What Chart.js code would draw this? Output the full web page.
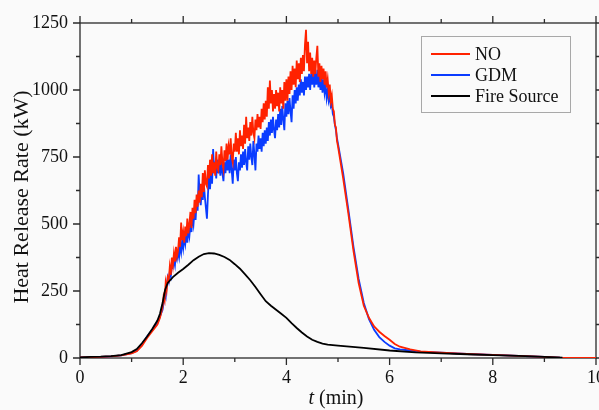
<!DOCTYPE html>
<html><head><meta charset="utf-8">
<script src="https://cdn.jsdelivr.net/npm/chart.js@4/dist/chart.umd.min.js"></script>
<style>html,body{margin:0;padding:0;background:#fafafa;}#wrap{width:599px;height:410px;}</style>
</head><body><div id="wrap"><canvas id="c" width="599" height="410"></canvas></div>
<script>
// time (min) for the measured curves
const timeMin = [0,0.2,0.4,0.6,0.8,1.0,1.1,1.2,1.3,1.4,1.5,1.55,
1.60,1.62,1.64,1.66,1.68,1.70,1.72,1.74,1.76,1.78,1.80,1.82,1.84,1.86,1.88,1.90,1.92,1.94,1.96,1.98,
2.00,2.02,2.04,2.06,2.08,2.10,2.12,2.14,2.16,2.18,2.20,2.22,2.24,2.26,2.28,2.30,2.32,2.34,2.36,2.38,
2.40,2.42,2.44,2.46,2.48,2.50,2.52,2.54,2.56,2.58,2.60,2.62,2.64,2.66,2.68,2.70,2.72,2.74,2.76,2.78,
2.80,2.82,2.84,2.86,2.88,2.90,2.92,2.94,2.96,2.98,3.00,3.02,3.04,3.06,3.08,3.10,3.12,3.14,3.16,3.18,
3.20,3.22,3.24,3.26,3.28,3.30,3.32,3.34,3.36,3.38,3.40,3.42,3.44,3.46,3.48,3.50,3.52,3.54,3.56,3.58,
3.60,3.62,3.64,3.66,3.68,3.70,3.72,3.74,3.76,3.78,3.80,3.82,3.84,3.86,3.88,3.90,3.92,3.94,3.96,3.98,
4.00,4.02,4.04,4.06,4.08,4.10,4.12,4.14,4.16,4.18,4.20,4.22,4.24,4.26,4.28,4.30,4.32,4.34,4.36,4.38,
4.40,4.42,4.44,4.46,4.48,4.50,4.52,4.54,4.56,4.58,4.60,4.62,4.64,4.66,4.68,4.70,4.72,4.74,4.76,4.78,
4.80,4.82,4.84,4.86,4.88,4.90,4.92,4.94,4.96,4.98,5.00,
5.1,5.2,5.3,5.4,5.5,5.6,5.7,5.8,5.9,6.0,6.1,6.2,6.4,6.6,7.0,7.5,8.0,8.5,9.0,9.3,9.5,10];
// NO (kW)
const noHRR = [2,3,4,6,10,17,25,45,75,100,125,150,
190,230,215,280,255,300,290,340,310,375,345,390,360,415,380,400,450,415,505,440,
470,430,490,455,520,465,500,545,485,560,520,590,540,610,565,625,580,650,600,690,
620,700,650,640,720,670,740,680,760,690,730,680,770,710,700,760,720,790,730,705,
775,735,800,740,790,760,820,750,730,800,770,840,770,820,760,850,790,830,780,870,
800,900,820,860,810,880,830,900,840,820,890,850,910,860,900,855,930,880,950,890,
960,900,1010,930,1035,950,1000,920,985,930,1000,940,990,920,1010,950,1000,930,1030,960,
1040,960,1050,985,1070,1000,1090,1020,1080,1010,1110,1040,1100,1030,1120,1060,1130,1070,1170,1225,
1100,1180,1070,1140,1060,1120,1050,1110,1060,1120,1165,1050,1100,1030,1090,1040,1080,1020,1070,1010,
1040,990,1020,960,980,930,920,870,860,810,790,
670,540,400,280,195,150,118,98,82,68,52,42,32,25,20,15,12,8,4,1,0,0];
// GDM (kW)
const gdmHRR = [2,3,4,6,10,18,27,50,80,105,130,155,
180,205,235,225,270,300,285,320,305,350,340,365,345,390,370,395,375,420,395,440,
410,450,425,465,430,480,455,500,470,530,500,550,515,580,550,685,600,570,630,590,
650,600,560,520,610,680,630,700,650,780,690,720,670,740,690,730,680,740,690,660,
730,690,750,700,740,690,760,700,650,740,700,750,690,660,730,700,760,710,770,720,
780,730,700,790,740,800,750,720,810,760,700,800,770,830,780,820,770,840,790,850,
800,860,810,880,830,890,840,900,850,820,890,850,910,860,930,870,940,890,850,950,
900,960,910,970,920,880,980,930,1000,950,1010,960,1020,980,1040,990,1030,980,1050,1000,
1050,1010,1060,1000,1060,1020,1070,1010,1060,1020,1075,1010,1060,1000,1050,990,1040,990,1020,970,
1000,960,980,940,950,910,900,870,850,820,800,
690,555,415,295,205,145,105,78,60,46,36,32,28,24,20,15,12,8,4,1,0,0];
// Fire source
const fireTime = [0,0.2,0.4,0.6,0.8,1.0,1.1,1.2,1.3,1.4,1.5,1.55,1.6,1.65,1.7,1.8,1.9,2.0,2.1,2.2,2.3,2.4,2.5,2.6,2.7,2.8,2.9,3.0,3.1,3.2,3.3,3.4,3.5,3.6,3.7,3.8,3.9,4.0,4.1,4.2,4.3,4.4,4.5,4.6,4.7,4.8,5.0,5.5,6.0,6.5,7.0,7.5,8.0,8.5,9.0,9.35];
const fireHRR = [2,4,5,7,11,22,33,55,80,108,140,165,205,255,280,302,318,332,348,365,378,388,391,390,385,377,366,350,333,312,290,265,238,212,195,180,165,150,130,112,95,80,68,60,54,50,46,38,28,21,17,14,11,8,4,1];

const seriesLabels = ['NO','GDM','Fire Source'];
const seriesColors = ['#ff2200','#0a3cff','#000000'];
const xTickLabels = [0,2,4,6,8,10];
const yTickLabels = [0,250,500,750,1000,1250];
const xTitleItalic = 't', xTitleRest = ' (min)';
const yTitle = 'Heat Release Rate (kW)';

const FONT = 'Liberation Serif';
const toXY = (xs, ys) => xs.map((x,i)=>({x:x, y:ys[i]}));

const bgPlugin = {
  id:'bg',
  beforeDraw(chart){
    const c = chart.ctx; c.save(); c.fillStyle='#fafafa'; c.fillRect(0,0,chart.width,chart.height); c.restore();
  }
};
const framePlugin = {
  id:'frame',
  beforeDatasetsDraw(chart){
    const {ctx, chartArea:a, scales:{x, y}} = chart;
    ctx.save();
    ctx.strokeStyle = '#2a2a2a'; ctx.lineWidth = 1.3;
    ctx.strokeRect(a.left, a.top, a.right-a.left, a.bottom-a.top);
    ctx.beginPath();
    x.ticks.forEach(t=>{
      const px = x.getPixelForValue(t.value);
      const L = xTickLabels.includes(t.value) ? 7 : 4;
      ctx.moveTo(px, a.bottom); ctx.lineTo(px, a.bottom+L);
      ctx.moveTo(px, a.top); ctx.lineTo(px, a.top-L);
    });
    y.ticks.forEach(t=>{
      const py = y.getPixelForValue(t.value);
      const L = yTickLabels.includes(t.value) ? 7 : 4;
      ctx.moveTo(a.left, py); ctx.lineTo(a.left-L, py);
      ctx.moveTo(a.right, py); ctx.lineTo(a.right+L, py);
    });
    ctx.stroke();
    ctx.restore();
  }
};
const textPlugin = {
  id:'texts',
  afterDraw(chart){
    const {ctx, chartArea:a} = chart;
    ctx.save();
    ctx.fillStyle = '#111';
    // y title
    ctx.save();
    ctx.translate(22, 197);
    ctx.rotate(-Math.PI/2);
    ctx.font = '22px "'+FONT+'"'; ctx.textAlign='center'; ctx.textBaseline='middle';
    ctx.fillText(yTitle, 0, 0);
    ctx.restore();
    // x title with italic t
    const f1 = 'italic 20px "'+FONT+'"', f2 = '20px "'+FONT+'"';
    ctx.font = f1; const w1 = ctx.measureText(xTitleItalic).width;
    ctx.font = f2; const w2 = ctx.measureText(xTitleRest).width;
    const cx = (a.left+a.right)/2 - 2;
    let sx = cx - (w1+w2)/2;
    ctx.textBaseline='alphabetic'; ctx.textAlign='left';
    ctx.font = f1; ctx.fillText(xTitleItalic, sx, 404);
    ctx.font = f2; ctx.fillText(xTitleRest, sx+w1, 404);
    // legend
    const bx=421.5, by=36.5, bw=149, bh=76;
    ctx.fillStyle='#fafafa'; ctx.fillRect(bx,by,bw,bh);
    ctx.strokeStyle='#a8a8a8'; ctx.lineWidth=1; ctx.strokeRect(bx,by,bw,bh);
    const rows=[54,75,96];
    chart.data.datasets.forEach((ds,i)=>{
      ctx.strokeStyle=ds.borderColor; ctx.lineWidth=2;
      ctx.beginPath(); ctx.moveTo(431,rows[i]); ctx.lineTo(470,rows[i]); ctx.stroke();
      ctx.fillStyle='#111'; ctx.font='18px "'+FONT+'"'; ctx.textBaseline='middle';
      ctx.fillText(ds.label, 475, rows[i]+1);
    });
    ctx.restore();
  }
};

new Chart(document.getElementById('c'), {
  type:'line',
  data:{datasets:[
    {label:seriesLabels[0], data:toXY(timeMin,noHRR), borderColor:seriesColors[0], order:2},
    {label:seriesLabels[1], data:toXY(timeMin,gdmHRR), borderColor:seriesColors[1], order:3},
    {label:seriesLabels[2], data:toXY(fireTime,fireHRR), borderColor:seriesColors[2], order:1}
  ]},
  options:{
    responsive:false, animation:false, devicePixelRatio:1,
    parsing:false,
    elements:{line:{borderWidth:1.8, tension:0, fill:false}, point:{radius:0}},
    layout:{padding:{left:0,right:3,top:23,bottom:0}},
    plugins:{legend:{display:false}, tooltip:{enabled:false}},
    scales:{
      x:{type:'linear', min:0, max:10,
        grid:{display:false, drawTicks:false}, border:{display:false},
        ticks:{stepSize:1, autoSkip:false, maxRotation:0, padding:9, color:'#111',
          font:{family:FONT,size:18},
          callback:v=> xTickLabels.includes(v) ? String(v) : ''},
        afterFit:s=>{s.height=52; s.paddingLeft=0; s.paddingRight=0;}
      },
      y:{type:'linear', min:0, max:1250,
        grid:{display:false, drawTicks:false}, border:{display:false},
        ticks:{stepSize:125, autoSkip:false, padding:12, color:'#111',
          font:{family:FONT,size:18},
          callback:v=> yTickLabels.includes(v) ? String(v) : ''},
        afterFit:s=>{s.width=80; s.paddingTop=0; s.paddingBottom=0;}
      }
    }
  },
  plugins:[bgPlugin, framePlugin, textPlugin]
});
</script></body></html>
